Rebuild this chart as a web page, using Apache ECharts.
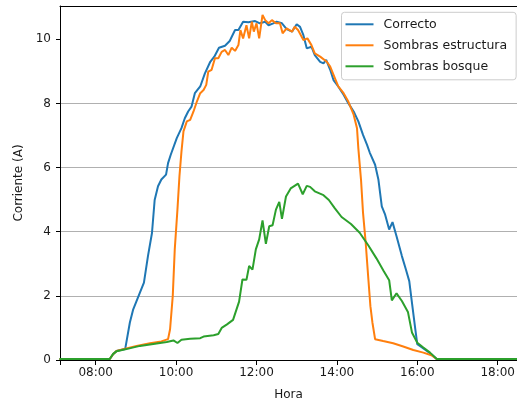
<!DOCTYPE html>
<html>
<head>
<meta charset="utf-8">
<script src="https://cdn.jsdelivr.net/npm/echarts@6/dist/echarts.min.js"></script>
<style>
html,body{margin:0;padding:0;background:#fff;}
#chart{width:517px;height:400px;}
</style>
</head>
<body>
<div id="chart"></div>
<script>
var seriesNames = ["Correcto", "Sombras estructura", "Sombras bosque"];
var xTickLabels = ["08:00", "10:00", "12:00", "14:00", "16:00", "18:00"];
var yTicks = [0, 2, 4, 6, 8, 10];

var correctoTimes = ["07:06","08:21","08:26","08:31","08:44","08:51","08:56","09:06","09:12","09:18","09:24","09:28","09:33","09:38","09:45","09:48","09:52","10:01","10:08","10:13","10:18","10:23","10:28","10:36","10:43","10:51","10:57","11:04","11:13","11:20","11:28","11:33","11:40","11:48","11:58","12:05","12:13","12:18","12:25","12:30","12:38","12:45","12:53","13:00","13:05","13:10","13:15","13:22","13:27","13:35","13:40","13:44","13:50","13:55","14:02","14:10","14:17","14:25","14:32","14:39","14:45","14:49","14:57","15:02","15:07","15:12","15:18","15:23","15:29","15:37","15:43","15:48","15:52","15:57","16:00","16:07","16:19","16:29","18:40"];
var correctoValues = [0.03,0.03,0.18,0.28,0.34,1.17,1.58,2.10,2.41,3.24,3.96,4.99,5.42,5.63,5.78,6.14,6.40,6.92,7.23,7.54,7.75,7.90,8.32,8.53,8.94,9.30,9.46,9.74,9.80,9.95,10.29,10.29,10.55,10.53,10.57,10.50,10.55,10.44,10.50,10.55,10.50,10.32,10.24,10.47,10.39,10.13,9.72,9.77,9.51,9.30,9.25,9.36,9.05,8.73,8.53,8.27,8.01,7.75,7.44,7.02,6.71,6.47,6.09,5.62,4.79,4.53,4.07,4.30,3.86,3.24,2.82,2.46,1.79,0.96,0.49,0.39,0.21,0.03,0.03];

var estructuraTimes = ["07:06","08:21","08:26","08:31","08:41","09:01","09:21","09:38","09:48","09:51","09:55","09:58","10:02","10:05","10:08","10:11","10:16","10:21","10:26","10:31","10:36","10:41","10:45","10:48","10:53","10:58","11:03","11:08","11:13","11:18","11:23","11:28","11:33","11:36","11:40","11:45","11:49","11:53","11:56","12:00","12:04","12:09","12:13","12:18","12:23","12:29","12:35","12:39","12:45","12:53","12:57","13:02","13:10","13:16","13:22","13:27","13:35","13:45","13:50","13:55","14:02","14:10","14:17","14:25","14:30","14:32","14:36","14:39","14:43","14:47","14:50","14:53","14:57","15:09","15:24","15:39","15:54","16:09","16:21","16:29","18:40"];
var estructuraValues = [0.03,0.03,0.18,0.28,0.34,0.44,0.52,0.58,0.65,0.96,1.99,3.45,4.69,5.73,6.50,7.13,7.44,7.49,7.75,8.06,8.32,8.42,8.58,8.99,9.05,9.41,9.41,9.61,9.67,9.51,9.74,9.64,9.82,10.29,10.03,10.44,10.03,10.55,10.24,10.50,10.03,10.76,10.60,10.50,10.60,10.50,10.50,10.19,10.34,10.24,10.39,10.29,9.98,10.03,9.82,9.56,9.46,9.30,9.15,8.89,8.53,8.32,8.06,7.65,7.23,6.60,5.62,4.59,3.65,2.51,1.68,1.17,0.65,0.59,0.52,0.42,0.31,0.23,0.15,0.03,0.03];

var bosqueTimes = ["07:06","08:21","08:26","08:31","08:46","09:06","09:26","09:46","09:56","10:02","10:08","10:21","10:36","10:41","10:56","11:03","11:08","11:16","11:25","11:34","11:39","11:45","11:49","11:54","11:59","12:04","12:09","12:14","12:19","12:24","12:29","12:34","12:38","12:44","12:51","13:02","13:09","13:15","13:20","13:27","13:40","13:48","13:57","14:07","14:21","14:34","14:47","14:59","15:10","15:18","15:22","15:29","15:37","15:46","15:52","16:00","16:09","16:19","16:29","18:40"];
var bosqueValues = [0.03,0.03,0.19,0.27,0.34,0.44,0.50,0.56,0.61,0.53,0.63,0.66,0.68,0.73,0.77,0.81,1.00,1.11,1.25,1.82,2.51,2.50,2.93,2.82,3.45,3.76,4.35,3.62,4.17,4.20,4.69,4.93,4.40,5.10,5.35,5.50,5.17,5.43,5.40,5.26,5.14,4.99,4.73,4.46,4.24,3.97,3.57,3.17,2.77,2.49,1.86,2.08,1.84,1.50,0.86,0.54,0.39,0.23,0.03,0.03];

var colors = ["#1f77b4", "#ff7f0e", "#2ca02c"];

function toHours(s) {
  var p = s.split(":");
  return parseInt(p[0], 10) + parseInt(p[1], 10) / 60;
}
function pairs(times, values) {
  return times.map(function (t, i) { return [toHours(t), values[i]]; });
}
function fmt(v) {
  var h = Math.round(v);
  return (h < 10 ? "0" : "") + h + ":00";
}

var xMin = 7.112, xMax = 18.48;
var xTickVals = xTickLabels.map(toHours);
var font = "DejaVu Sans";
var textColor = "#1a1a1a";

var chart = echarts.init(document.getElementById("chart"), null, {renderer: "canvas"});
var lineData = [pairs(correctoTimes, correctoValues), pairs(estructuraTimes, estructuraValues), pairs(bosqueTimes, bosqueValues)];

chart.setOption({
  animation: false,
  backgroundColor: "#ffffff",
  grid: {
    left: 60, top: 6, right: 0, bottom: 40,
    show: false,
    containLabel: false,
    outerBoundsMode: "none"
  },
  legend: {
    orient: "vertical",
    left: 341.5, top: 12.3,
    padding: [5.5, 9, 7, 4],
    itemGap: 8,
    itemWidth: 28, itemHeight: 2,
    icon: "rect",
    backgroundColor: "rgba(255,255,255,0.8)",
    borderColor: "#cccccc", borderWidth: 1, borderRadius: 3,
    textStyle: {fontFamily: font, fontSize: 12.5, color: textColor, padding: [0, 0, 0, 5]},
    data: seriesNames
  },
  xAxis: [{
    type: "value",
    min: xMin, max: xMax,
    name: "Hora", nameLocation: "middle", nameGap: 29,
    nameTextStyle: {fontFamily: font, fontSize: 12, color: textColor},
    axisLine: {show: true, onZero: false, lineStyle: {color: "#000000", width: 1}},
    axisTick: {show: true, length: 5, customValues: [xMin].concat(xTickVals), lineStyle: {color: "#000000"}},
    axisLabel: {customValues: xTickVals, formatter: fmt, margin: 7, fontFamily: font, fontSize: 12, color: textColor},
    splitLine: {show: false}
  }, {
    type: "value",
    position: "top",
    min: xMin, max: xMax,
    axisLine: {show: true, onZero: false, lineStyle: {color: "#000000", width: 1}},
    axisTick: {show: false},
    axisLabel: {show: false},
    splitLine: {show: false}
  }],
  yAxis: {
    type: "value",
    min: 0, max: 11.04, interval: 2,
    name: "Corriente (A)", nameLocation: "middle", nameGap: 28,
    nameTextStyle: {fontFamily: font, fontSize: 12, color: textColor},
    axisLine: {show: true, lineStyle: {color: "#000000", width: 1}},
    axisTick: {show: true, length: 4, customValues: yTicks, lineStyle: {color: "#000000"}},
    axisLabel: {customValues: yTicks, margin: 9, fontFamily: font, fontSize: 12, color: textColor},
    splitLine: {show: true, showMaxLine: false, lineStyle: {color: "#b0b0b0", width: 1}}
  },
  series: seriesNames.map(function (n, i) {
    return {
      name: n, type: "line", data: lineData[i], xAxisIndex: 0,
      showSymbol: false, symbol: "none",
      color: colors[i],
      lineStyle: {color: colors[i], width: 2},
      clip: true
    };
  })
});
</script>
</body>
</html>
